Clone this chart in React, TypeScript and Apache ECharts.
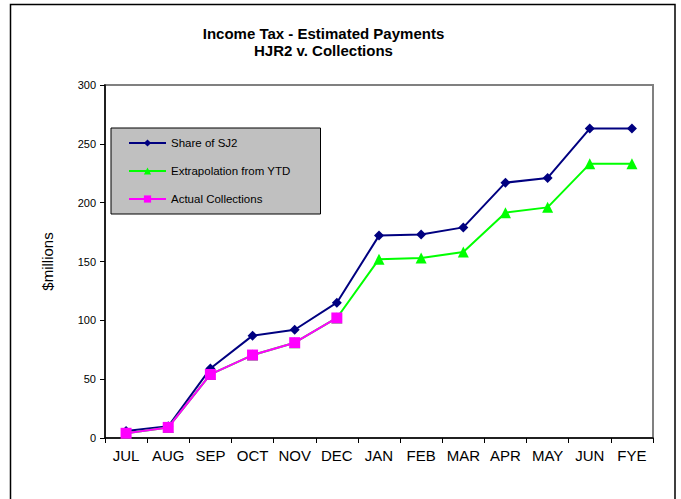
import React, { useEffect, useRef } from "react";
import * as echarts from "echarts";

const categories = ["JUL", "AUG", "SEP", "OCT", "NOV", "DEC", "JAN", "FEB", "MAR", "APR", "MAY", "JUN", "FYE"];
const shareOfSJ2 = [6, 10, 59, 87, 92, 115, 172, 173, 179, 217, 221, 263, 263];
const extrapolation = [4, 9, 54, 70.5, 81, 102, 152, 153, 158, 191.5, 196, 233, 233];
const actualCollections = [4, 9, 54, 70.5, 81, 102];
const titleLines = ["Income Tax - Estimated Payments", "HJR2 v. Collections"];
const yAxisName = "$millions";

const FONT = 'Arial, "Liberation Sans", sans-serif';

export default function App() {
  const ref = useRef<HTMLDivElement>(null);
  useEffect(() => {
    if (!ref.current) return;
    const chart = echarts.init(ref.current, null, { renderer: "svg" });
    chart.setOption({
      animation: false,
      backgroundColor: "#ffffff",
      textStyle: { fontFamily: FONT },
      graphic: [
        {
          type: "rect",
          shape: { x: 10.5, y: 4.5, width: 664.5, height: 520 },
          style: { fill: "none", stroke: "#000", lineWidth: 1.5 },
          silent: true,
        },
        {
          type: "text",
          x: 323.5,
          y: 33,
          style: {
            text: titleLines[0],
            font: `bold 15px ${FONT}`,
            fill: "#000",
            align: "center",
            verticalAlign: "middle",
          },
        },
        {
          type: "text",
          x: 323.5,
          y: 50,
          style: {
            text: titleLines[1],
            font: `bold 15px ${FONT}`,
            fill: "#000",
            align: "center",
            verticalAlign: "middle",
          },
        },
      ],
      grid: {
        left: 105,
        right: 28,
        top: 85,
        bottom: 61,
        show: true,
        borderColor: "#808080",
        borderWidth: 2,
        backgroundColor: "#fff",
      },
      legend: {
        orient: "vertical",
        left: 111,
        top: 128,
        padding: [9, 30, 9, 17],
        itemGap: 16,
        itemWidth: 37,
        itemHeight: 9,
        backgroundColor: "#c0c0c0",
        borderColor: "#000",
        borderWidth: 1,
        textStyle: { fontSize: 11.5, color: "#000", fontFamily: FONT },
        data: ["Share of SJ2", "Extrapolation from YTD", "Actual Collections"],
      },
      xAxis: {
        type: "category",
        data: categories,
        boundaryGap: true,
        axisLine: { lineStyle: { color: "#000", width: 1.5 } },
        axisTick: { show: true, length: 5, inside: false, interval: 0, lineStyle: { color: "#000" } },
        axisLabel: { fontSize: 15, color: "#000", margin: 10, interval: 0, fontFamily: FONT },
        splitLine: { show: false },
      },
      yAxis: {
        type: "value",
        min: 0,
        max: 300,
        interval: 50,
        name: yAxisName,
        nameLocation: "middle",
        nameGap: 50,
        nameTextStyle: { fontSize: 15, color: "#000", fontFamily: FONT },
        axisLine: { show: true, lineStyle: { color: "#000", width: 1.5 } },
        axisTick: { show: true, length: 5, lineStyle: { color: "#000" } },
        axisLabel: { fontSize: 11, color: "#000", margin: 9, fontFamily: FONT },
        splitLine: { show: false },
      },
      series: [
        {
          name: "Share of SJ2",
          type: "line",
          data: shareOfSJ2,
          symbol: "diamond",
          symbolSize: 10,
          itemStyle: { color: "#000080" },
          lineStyle: { color: "#000080", width: 2 },
        },
        {
          name: "Extrapolation from YTD",
          type: "line",
          data: extrapolation,
          symbol: "triangle",
          symbolSize: 11,
          itemStyle: { color: "#00ff00" },
          lineStyle: { color: "#00ff00", width: 2 },
        },
        {
          name: "Actual Collections",
          type: "line",
          data: actualCollections,
          symbol: "rect",
          symbolSize: 11,
          itemStyle: { color: "#ff00ff" },
          lineStyle: { color: "#ff00ff", width: 2 },
        },
      ],
    });
    return () => chart.dispose();
  }, []);
  return (
    <div
      ref={ref}
      style={{ position: "absolute", left: 0, top: 0, width: 681, height: 499 }}
    />
  );
}
